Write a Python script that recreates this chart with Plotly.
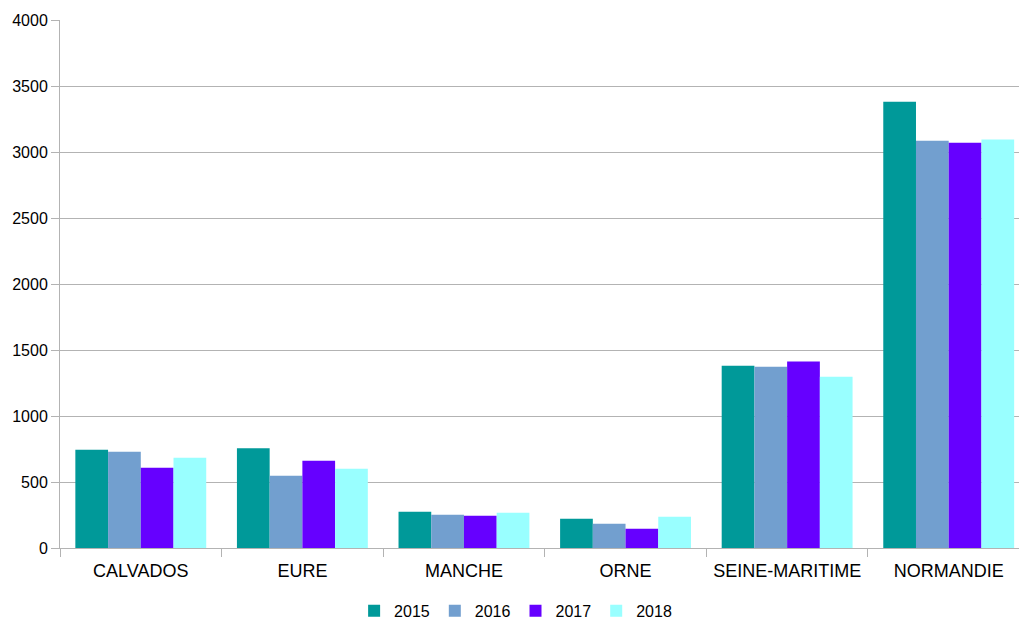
import plotly.graph_objects as go

categories = ["CALVADOS", "EURE", "MANCHE", "ORNE", "SEINE-MARITIME", "NORMANDIE"]
years = ["2015", "2016", "2017", "2018"]
values_2015 = [745, 755, 275, 222, 1381, 3381]
values_2016 = [730, 548, 252, 184, 1374, 3086]
values_2017 = [608, 661, 245, 146, 1412, 3071]
values_2018 = [684, 601, 267, 237, 1298, 3094]
colors = ["#009999", "#729fcf", "#6600ff", "#99ffff"]

series = [values_2015, values_2016, values_2017, values_2018]

fig = go.Figure()
for name, vals, col in zip(years, series, colors):
    fig.add_trace(go.Bar(name=name, x=categories, y=vals, marker=dict(color=col, line=dict(width=0))))

grid = "#b3b3b3"
font = dict(family="Liberation Sans, Arial, sans-serif", size=16, color="#000000")

fig.update_layout(
    width=1019, height=619,
    margin=dict(l=60, r=0, t=20, b=71, autoexpand=False),
    paper_bgcolor="white", plot_bgcolor="white",
    barmode="group", bargap=0.19, bargroupgap=0,
    font=font,
    showlegend=True,
    legend=dict(orientation="h", xref="container", x=0.506, xanchor="center",
                yref="paper", y=-0.119, yanchor="middle",
                font=dict(size=16), itemwidth=30, traceorder="normal"),
)
fig.update_xaxes(
    range=[-0.5, 5.435], tickson="boundaries", ticks="outside", ticklen=8,
    tickcolor=grid, showline=True, linecolor=grid, linewidth=1,
    showgrid=False, tickfont=dict(size=18), ticklabelstandoff=6, tickangle=0,
)
fig.update_yaxes(
    range=[0, 4000], dtick=500, ticks="outside", ticklen=8, tickcolor=grid,
    showline=True, linecolor=grid, linewidth=1, showgrid=True, gridcolor=grid,
    gridwidth=1, zeroline=False, tickfont=dict(size=16),
)

fig.write_html("out.html")
